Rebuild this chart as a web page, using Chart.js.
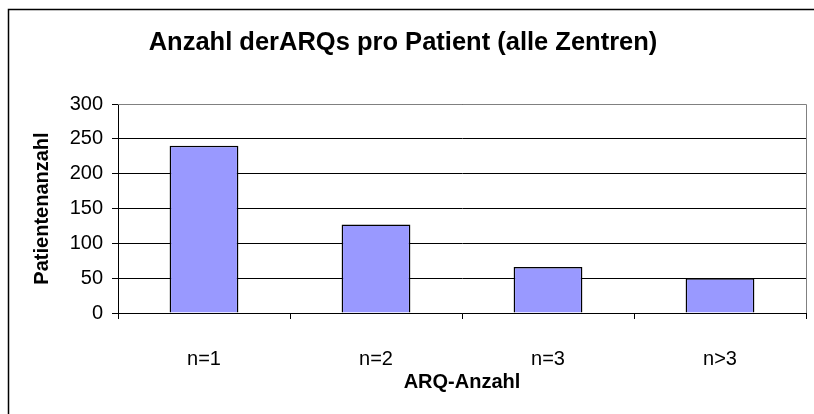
<!DOCTYPE html>
<html>
<head>
<meta charset="utf-8">
<script src="https://cdn.jsdelivr.net/npm/chart.js@4/dist/chart.umd.min.js"></script>
<style>
html,body{margin:0;padding:0;background:#fff;overflow:hidden;}
#wrap{width:814px;height:414px;position:relative;}
</style>
</head>
<body>
<div id="wrap"><canvas id="c" width="814" height="414"></canvas></div>
<script>
const categories = ["n=1", "n=2", "n=3", "n>3"];
const patientCounts = [240, 127, 66, 50];
const yTicks = [0, 50, 100, 150, 200, 250, 300];
const chartTitle = "Anzahl derARQs pro Patient (alle Zentren)";
const xTitle = "ARQ-Anzahl";
const yTitle = "Patientenanzahl";

const FONT = "'Liberation Sans', Arial, sans-serif";

const framePlugin = {
  id: 'frame',
  beforeDraw(chart) {
    const ctx = chart.ctx;
    ctx.save();
    ctx.fillStyle = '#fff';
    ctx.fillRect(0, 0, chart.width, chart.height);
    ctx.strokeStyle = '#000';
    ctx.lineWidth = 1.5;
    ctx.strokeRect(8.5, 9.5, chart.width + 10, chart.height + 10);
    ctx.restore();
  },
  beforeDatasetsDraw(chart) {
    const a = chart.chartArea;
    const ctx = chart.ctx;
    ctx.save();
    ctx.strokeStyle = '#808080';
    ctx.lineWidth = 1;
    ctx.beginPath();
    ctx.moveTo(a.left, a.top + 0.5);
    ctx.lineTo(a.right + 0.5, a.top + 0.5);
    ctx.lineTo(a.right + 0.5, a.bottom);
    ctx.stroke();
    ctx.restore();
  }
};

new Chart(document.getElementById('c'), {
  type: 'bar',
  data: {
    labels: categories,
    datasets: [{
      data: patientCounts,
      backgroundColor: '#9999FF',
      borderColor: '#000',
      borderWidth: 1.5,
      categoryPercentage: 1,
      barPercentage: 0.4
    }]
  },
  options: {
    responsive: false,
    animation: false,
    devicePixelRatio: 1,
    layout: { padding: { left: 0, top: 0, right: 8, bottom: 0 } },
    plugins: {
      legend: { display: false },
      tooltip: { enabled: false },
      title: {
        display: true,
        text: chartTitle,
        color: '#000',
        font: { family: FONT, size: 25.5, weight: 'bold', lineHeight: 1.2 },
        padding: { top: 28, bottom: 45.4 }
      }
    },
    scales: {
      x: {
        grid: { display: true, drawOnChartArea: false, offset: true, color: '#000', lineWidth: 1, tickLength: 6 },
        border: { display: true, color: '#000', width: 1 },
        ticks: { color: '#000', font: { family: FONT, size: 20, lineHeight: 1.2 }, padding: 28, maxRotation: 0 },
        title: { display: true, text: xTitle, color: '#000', font: { family: FONT, size: 20, weight: 'bold', lineHeight: 1.2 }, padding: { top: 0, bottom: 20 } },
        afterFit(scale) { scale.height = 101; }
      },
      y: {
        min: 0,
        max: 300,
        afterBuildTicks(scale) { scale.ticks = yTicks.map(v => ({ value: v })); },
        grid: { color: '#000', lineWidth: 1, tickLength: 6 },
        border: { display: true, color: '#000', width: 1 },
        ticks: { color: '#000', font: { family: FONT, size: 20 }, padding: 9 },
        title: { display: true, text: yTitle, color: '#000', font: { family: FONT, size: 20, weight: 'bold', lineHeight: 1.2 }, padding: { top: 30, bottom: 0 } },
        afterFit(scale) { scale.width = 118; }
      }
    }
  },
  plugins: [framePlugin]
});
</script>
</body>
</html>
